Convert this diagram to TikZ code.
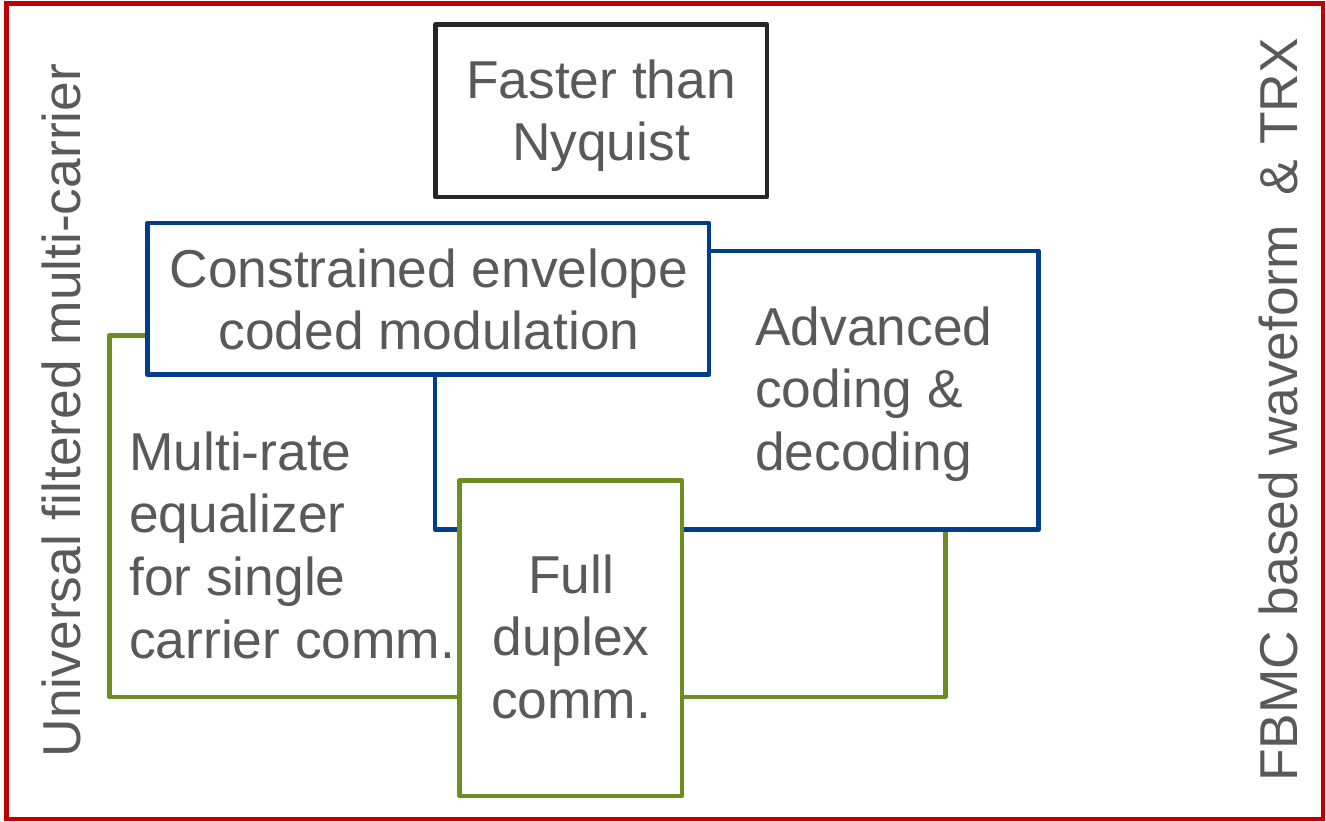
\documentclass[tikz,border=0pt]{standalone}
\usepackage{fontspec}
\setmainfont{Liberation Sans}
\definecolor{framered}{RGB}{192,0,0}
\definecolor{boxblue}{RGB}{0,61,141}
\definecolor{boxgreen}{RGB}{107,142,30}
\definecolor{boxink}{RGB}{38,38,38}
\definecolor{textgray}{RGB}{89,89,89}
\tikzset{
  outerframe/.style={draw=framered, line width=3.6pt},
  bluebox/.style={draw=boxblue, line width=3.4pt, fill=white, line join=round},
  greenbox/.style={draw=boxgreen, line width=3.4pt, fill=white, line join=round},
  blackbox/.style={draw=boxink, line width=3.4pt, line join=round},
  lbl/.style={text=textgray, inner sep=0pt, font=\fontsize{40}{47.2}\selectfont},
}
% first-line-baseline blocks of text, centred or flush left
\newcommand{\ctrblock}[1]{\begin{tabular}[t]{@{}c@{}}#1\end{tabular}}
\newcommand{\lftblock}[1]{\begin{tabular}[t]{@{}l@{}}#1\end{tabular}}
\begin{document}
\begin{tikzpicture}[x=0.75pt, y=-0.75pt]
  \useasboundingbox (0,0) rectangle (1326,821);

  % outer frame
  \draw[outerframe] (6.5,3.5) rectangle (1323,819);

  % boxes, back to front
  \draw[greenbox] (109.5,335.5) rectangle (945.5,697);   % multi-rate equalizer
  \draw[bluebox]  (435,251) rectangle (1038.5,529.5);    % advanced coding
  \draw[bluebox]  (147.5,223) rectangle (709,374.5);     % constrained envelope
  \draw[greenbox] (459.5,480.5) rectangle (682,796);     % full duplex
  \draw[blackbox] (435.5,24.5) rectangle (767,197);      % faster than Nyquist

  % texts
  \node[lbl, anchor=base] (ftn) at (601,98) {\ctrblock{Faster than\\Nyquist}};
  \node[lbl, anchor=base] (cecm) at (429,287) {\ctrblock{Constrained envelope\\coded modulation}};
  \node[lbl, anchor=base west] (acd) at (755,345) {\lftblock{Advanced\\coding \&\\decoding}};
  \node[lbl, anchor=base west] (mre) at (129,470) {\lftblock{Multi-rate\\equalizer\\for single\\carrier comm.}};
  \node[lbl, anchor=base] (fdc) at (571,593) {\ctrblock{Full\\duplex\\comm.}};

  % side captions
  \node[lbl, rotate=90, anchor=base] (ufmc) at (80,410.5) {Universal filtered multi-carrier};
  \node[lbl, rotate=90, anchor=base] (fbmc) at (1297,410) {FBMC based waveform\ \ \& TRX};
\end{tikzpicture}
\end{document}
